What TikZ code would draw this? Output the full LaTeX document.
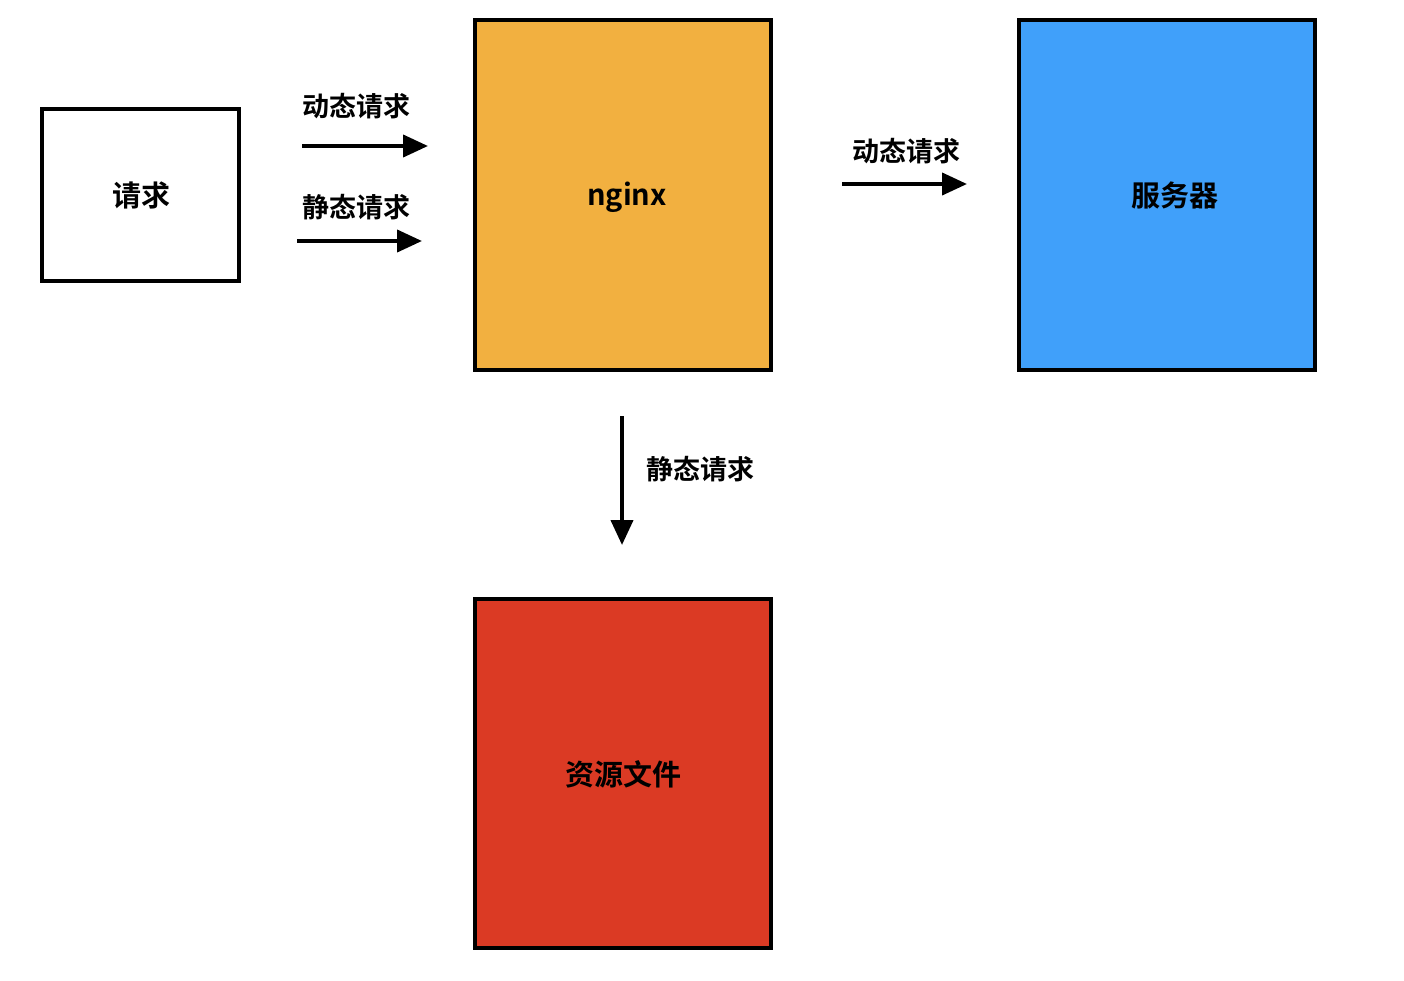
\documentclass[tikz,border=0pt]{standalone}
\usepackage{fontspec}
\setmainfont{Noto Sans CJK SC}
\newfontfamily\cjkb{Noto Sans CJK SC Bold}
\usetikzlibrary{arrows.meta}
\definecolor{ngx}{HTML}{F2B040}
\definecolor{srv}{HTML}{40A0FA}
\definecolor{res}{HTML}{DB3A24}
\tikzset{
  box/.style={draw=black,line width=4pt,inner sep=0pt},
  boxtxt/.style={font=\cjkb\fontsize{29}{32}\selectfont,inner sep=0pt},
  flow/.style={line width=4pt,-{Triangle[length=25pt,width=22pt]}},
  lbl/.style={font=\cjkb\fontsize{27}{30}\selectfont,inner sep=0pt}
}
\begin{document}
\begin{tikzpicture}[x=1pt,y=-1pt]
\useasboundingbox (0,0) rectangle (1404,980);
\node[box,minimum width=197pt,minimum height=172pt] (req) at (140.5,195) {};
\node[box,fill=ngx,minimum width=296pt,minimum height=350pt] (nginx) at (623,195) {};
\node[box,fill=srv,minimum width=296pt,minimum height=350pt] (server) at (1167,195) {};
\node[box,fill=res,minimum width=296pt,minimum height=349pt] (files) at (623,773.5) {};
\node[boxtxt] (reqt) at ([xshift=1pt]req.center) {请求};
\node[boxtxt] (nginxt) at ([xshift=4pt,yshift=-2pt]nginx.center) {nginx};
\node[boxtxt] (servert) at ([xshift=8pt]server.center) {服务器};
\node[boxtxt] (filest) at ([yshift=-1pt]files.center) {资源文件};
\coordinate (a1s) at (302,146); \coordinate (a1e) at (428,146);
\coordinate (a2s) at (297,241); \coordinate (a2e) at (422,241);
\coordinate (a3s) at (842,184); \coordinate (a3e) at (967,184);
\coordinate (a4s) at (622,416); \coordinate (a4e) at (622,545);
\draw[flow] (a1s) -- (a1e);
\draw[flow] (a2s) -- (a2e);
\draw[flow] (a3s) -- (a3e);
\draw[flow] (a4s) -- (a4e);
\node[lbl] (l1) at (356,106) {动态请求};
\node[lbl] (l2) at (356,207) {静态请求};
\node[lbl] (l3) at (906,151) {动态请求};
\node[lbl] (l4) at (700,469) {静态请求};
\end{tikzpicture}
\end{document}
